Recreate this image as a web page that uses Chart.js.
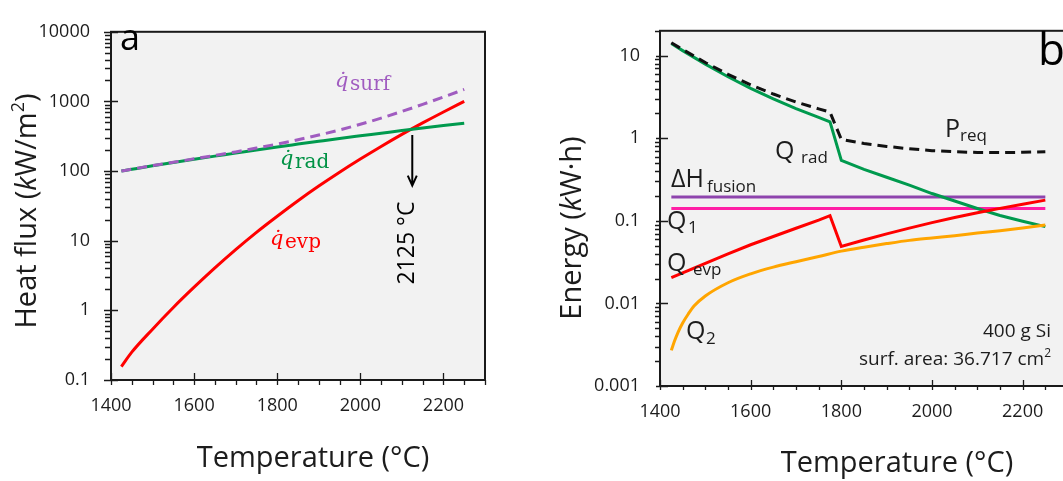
<!DOCTYPE html>
<html>
<head>
<meta charset="utf-8">
<script src="https://cdn.jsdelivr.net/npm/chart.js@4.4.1/dist/chart.umd.min.js"></script>
<style>
  html, body { margin: 0; padding: 0; background: #fff; overflow: hidden; }
  #wrap { position: relative; width: 1063px; height: 481px; overflow: hidden; }
  #chartA { position: absolute; left: 0; top: 0; }
  #chartB { position: absolute; left: 520px; top: 0; }
</style>
</head>
<body>
<div id="wrap">
  <canvas id="chartA" width="500" height="481"></canvas>
  <canvas id="chartB" width="560" height="481"></canvas>
</div>
<script>
// ── Panel a: heat flux (kW/m²) vs temperature ──
const tempsA = [1425, 1450, 1500, 1550, 1600, 1650, 1700, 1750, 1800, 1850, 1900, 1950, 2000, 2050, 2100, 2150, 2200, 2250];
const qSurf  = [100, 106.3, 120, 134, 150, 168, 188.5, 214, 244.5, 282, 329, 390, 470, 576, 719, 907, 1156, 1487];
const qRad   = [100, 106, 119, 133, 148, 164, 181, 201, 222, 244, 268, 294, 321, 350, 382, 415, 450, 487];
const qEvp   = [0.156, 0.251, 0.537, 1.10, 2.15, 4.07, 7.45, 13.2, 22.5, 37.6, 61.0, 96.4, 149, 226, 337, 492, 706, 1000];
const yTicksA = [0.1, 1, 10, 100, 1000, 10000];

// ── Panel b: energy (kW·h) vs temperature ──
const tempsB = [1425, 1450, 1500, 1550, 1600, 1650, 1700, 1750, 1775, 1800, 1850, 1900, 1950, 2000, 2050, 2100, 2150, 2200, 2250];
const pReq   = [14.36, 11.87, 8.27, 5.94, 4.42, 3.43, 2.74, 2.27, 2.07, 0.968, 0.863, 0.796, 0.746, 0.707, 0.686, 0.673, 0.670, 0.676, 0.688];
const qRadB  = [14.0, 11.5, 7.89, 5.55, 4.01, 3.0, 2.29, 1.79, 1.58, 0.54, 0.42, 0.337, 0.27, 0.214, 0.174, 0.141, 0.116, 0.099, 0.085];
const qEvpB  = [0.0205, 0.0234, 0.0305, 0.0398, 0.0513, 0.0646, 0.0813, 0.102, 0.1156, 0.049, 0.0586, 0.0695, 0.0817, 0.0951, 0.1096, 0.1253, 0.1416, 0.1592, 0.1782];
const tempsQ2 = [1425, 1432, 1440, 1450, 1462, 1475, 1500, 1550, 1600, 1650, 1700, 1750, 1800, 1850, 1900, 1950, 2000, 2050, 2100, 2150, 2200, 2250];
const q2     = [0.0027, 0.0035, 0.0045, 0.0058, 0.0074, 0.0093, 0.0123, 0.0178, 0.0228, 0.0275, 0.032, 0.037, 0.043, 0.048, 0.053, 0.058, 0.062, 0.066, 0.071, 0.076, 0.082, 0.089];
const levelTemps = [1425, 2250];
const dHFusion = [0.195, 0.195];
const q1 = [0.141, 0.141];
const yTicksB = [0.001, 0.01, 0.1, 1, 10];

const xTicks = [1400, 1600, 1800, 2000, 2200];

const TXT = '#1c1c1c';
const SANS = '"Open Sans", "DejaVu Sans", sans-serif';
const SERIF = '"DejaVu Serif", serif';

function pts(xs, ys) {
  return xs.map((x, i) => ({ x: x, y: ys[i] }));
}

function line(label, xs, ys, color, dash, smooth) {
  return {
    label: label,
    data: pts(xs, ys),
    borderColor: color,
    borderWidth: 3,
    borderDash: dash || [],
    pointRadius: 0,
    tension: 0,
    cubicInterpolationMode: smooth ? 'monotone' : 'default',
    fill: false
  };
}

// draw a row of text runs: [text, font, dy]
function runsWidth(ctx, runs) {
  let w = 0;
  runs.forEach(r => { ctx.font = r[1]; w += ctx.measureText(r[0]).width; });
  return w;
}
function drawRuns(ctx, x, y, runs) {
  let cx = x;
  runs.forEach(r => {
    ctx.font = r[1];
    ctx.fillText(r[0], cx, y + (r[2] || 0));
    cx += ctx.measureText(r[0]).width;
  });
}

// ── background, frame, tick marks and text ──
const decoPlugin = {
  id: 'deco',
  beforeDatasetsDraw(chart) {
    const a = chart.chartArea, ctx = chart.ctx;
    ctx.save();
    ctx.fillStyle = '#f2f2f2';
    ctx.fillRect(a.left, a.top, a.right - a.left, a.bottom - a.top);
    ctx.restore();
  },
  afterDraw(chart, args, opts) {
    const a = chart.chartArea, ctx = chart.ctx;
    const xs = chart.scales.x, ys = chart.scales.y;
    ctx.save();
    ctx.strokeStyle = '#1a1a1a';
    ctx.lineWidth = 2;
    ctx.strokeRect(a.left, a.top, a.right - a.left, a.bottom - a.top);

    const t = opts.ticks;
    ctx.lineWidth = 1.3;
    ctx.beginPath();
    // x ticks every 50 °C
    for (let v = xs.min; v <= xs.max; v += 50) {
      const px = Math.round(xs.getPixelForValue(v)) + 0.5;
      if (v % 200 === 0) {
        ctx.moveTo(px, a.bottom - t.xIn); ctx.lineTo(px, a.bottom + t.xOut);
      } else {
        ctx.moveTo(px, a.bottom); ctx.lineTo(px, a.bottom + t.xMinor);
      }
    }
    // y log ticks
    const d0 = Math.floor(Math.log10(ys.min)), d1 = Math.ceil(Math.log10(ys.max));
    for (let d = d0; d <= d1; d++) {
      for (let m = 1; m <= 9; m++) {
        const v = m * Math.pow(10, d);
        if (v < ys.min * 0.999 || v > ys.max * 1.001) continue;
        const py = Math.round(ys.getPixelForValue(v)) + 0.5;
        if (m === 1) {
          ctx.moveTo(a.left - t.yOut, py); ctx.lineTo(a.left + t.yIn, py);
        } else {
          ctx.moveTo(a.left - t.yMinor, py); ctx.lineTo(a.left, py);
        }
      }
    }
    ctx.stroke();

    // arrow (panel a)
    if (opts.arrow) {
      const ar = opts.arrow;
      const px = xs.getPixelForValue(ar.x);
      const pTop = ys.getPixelForValue(ar.from), pBot = ys.getPixelForValue(ar.to);
      ctx.lineWidth = 2;
      ctx.strokeStyle = '#000';
      ctx.beginPath();
      ctx.moveTo(px, pTop); ctx.lineTo(px, pBot);
      ctx.moveTo(px - 4.5, pBot - 10); ctx.lineTo(px, pBot); ctx.lineTo(px + 4.5, pBot - 10);
      ctx.stroke();
    }

    // text labels
    ctx.textBaseline = 'alphabetic';
    opts.labels.forEach(l => {
      ctx.save();
      ctx.fillStyle = l.color || TXT;
      ctx.translate(l.x, l.y);
      if (l.rotate) ctx.rotate(l.rotate);
      const w = runsWidth(ctx, l.runs);
      let x0 = 0;
      if (l.align === 'center') x0 = -w / 2;
      if (l.align === 'right') x0 = -w;
      drawRuns(ctx, x0, 0, l.runs);
      ctx.restore();
    });
    ctx.restore();
  }
};

function scalesFor(yMin, yMax, yTicks, yWidth, xHeight, yPad) {
  return {
    x: {
      type: 'linear', min: 1400, max: 2300,
      afterBuildTicks: s => { s.ticks = xTicks.map(v => ({ value: v })); },
      afterFit: s => { s.height = xHeight; },
      ticks: { font: { family: SANS, size: 18 }, color: TXT, padding: 15, maxRotation: 0, autoSkip: false,
               callback: v => String(v) },
      grid: { display: false, drawTicks: false },
      border: { display: false }
    },
    y: {
      type: 'logarithmic', min: yMin, max: yMax,
      afterBuildTicks: s => { s.ticks = yTicks.map(v => ({ value: v })); },
      afterFit: s => { s.width = yWidth; },
      ticks: { font: { family: SANS, size: 18 }, color: TXT, padding: yPad, autoSkip: false,
               callback: v => String(v) },
      grid: { display: false, drawTicks: false },
      border: { display: false }
    }
  };
}

const F_TITLE = '29px ' + SANS;
const F_TITLE_I = 'italic 29px ' + SANS;
const F_SUP = '18px ' + SANS;
const F_Q = '25px ' + SANS;
const F_SUB = '17px ' + SANS;

// ── Panel a ──
new Chart(document.getElementById('chartA'), {
  type: 'line',
  data: {
    datasets: [
      line('q_surf', tempsA, qSurf, '#a05cc0', [10, 6], true),
      line('q_rad', tempsA, qRad, '#009a4e', null, true),
      line('q_evp', tempsA, qEvp, '#ff0000', null, true)
    ]
  },
  options: {
    responsive: false,
    animation: false,
    layout: { padding: { top: 18, right: 15, left: 0, bottom: 0 } },
    scales: scalesFor(0.1, 10000, yTicksA, 111, 101, 21),
    plugins: {
      legend: { display: false },
      tooltip: { enabled: false },
      deco: {
        ticks: { xIn: 7, xOut: 5, xMinor: 5, yIn: 7, yOut: 7, yMinor: 6 },
        arrow: { x: 2125, from: 330, to: 62 },
        labels: [
          { x: 120, y: 50, runs: [['a', '36px ' + SANS]], color: '#000' },
          { x: 335, y: 87, color: '#a05cc0', runs: [['q\u0307', 'italic 21px ' + SERIF]] },
          { x: 350, y: 90, color: '#a05cc0', runs: [['surf', '20px ' + SERIF]] },
          { x: 280, y: 165, color: '#009245', runs: [['q\u0307', 'italic 21px ' + SERIF]] },
          { x: 295, y: 168, color: '#009245', runs: [['rad', '20px ' + SERIF]] },
          { x: 270, y: 245, color: '#ff0000', runs: [['q\u0307', 'italic 21px ' + SERIF]] },
          { x: 285, y: 248, color: '#ff0000', runs: [['evp', '20px ' + SERIF]] },
          { x: 414, y: 243, rotate: -Math.PI / 2, align: 'center', color: '#000', runs: [['2125 \u00b0C', '23px ' + SANS]] },
          { x: 313, y: 467, align: 'center', runs: [['Temperature (\u00b0C)', F_TITLE]] },
          { x: 36, y: 211, rotate: -Math.PI / 2, align: 'center',
            runs: [['Heat flux (', F_TITLE], ['k', F_TITLE_I], ['W/m', F_TITLE], ['2', F_SUP, -12], [')', F_TITLE]] }
        ]
      }
    }
  },
  plugins: [decoPlugin]
});

// ── Panel b (page x offset 520) ──
const OX = 520;
new Chart(document.getElementById('chartB'), {
  type: 'line',
  data: {
    datasets: [
      line('P_req', tempsB, pReq, '#111111', [10, 6]),
      line('Q_2', tempsQ2, q2, '#ffa500', null, true),
      line('Q_evp', tempsB, qEvpB, '#ff0000'),
      line('Q_rad', tempsB, qRadB, '#009a4e'),
      line('Q_1', levelTemps, q1, '#ff1fa5'),
      line('dH_fusion', levelTemps, dHFusion, '#8e44ad')
    ]
  },
  options: {
    responsive: false,
    animation: false,
    layout: { padding: { top: 29, right: 12, left: 0, bottom: 0 } },
    scales: scalesFor(0.001, 20, yTicksB, 140, 95, 20),
    plugins: {
      legend: { display: false },
      tooltip: { enabled: false },
      deco: {
        ticks: { xIn: 6, xOut: 4, xMinor: 4, yIn: 8, yOut: 4, yMinor: 5 },
        labels: [
          { x: 1038 - OX, y: 65, color: '#000', runs: [['b', '44px ' + SANS]] },
          { x: 945 - OX, y: 137, runs: [['P', F_Q]] },
          { x: 960 - OX, y: 141, runs: [['req', F_SUB]] },
          { x: 775 - OX, y: 159, runs: [['Q', F_Q]] },
          { x: 801 - OX, y: 163, runs: [['rad', F_SUB]] },
          { x: 671 - OX, y: 187, runs: [['\u0394H', F_Q]] },
          { x: 707 - OX, y: 192, runs: [['fusion', F_SUB]] },
          { x: 667 - OX, y: 229, runs: [['Q', F_Q]] },
          { x: 688 - OX, y: 233, runs: [['1', F_SUB]] },
          { x: 667 - OX, y: 271, runs: [['Q', F_Q]] },
          { x: 693 - OX, y: 275, runs: [['evp', F_SUB]] },
          { x: 686 - OX, y: 339, runs: [['Q', F_Q]] },
          { x: 706 - OX, y: 344, runs: [['2', F_SUB]] },
          { x: 1051 - OX, y: 337, align: 'right', runs: [['400 g Si', '19px ' + SANS]] },
          { x: 1051 - OX, y: 365, align: 'right', runs: [['surf. area: 36.717 cm', '19px ' + SANS], ['2', '12px ' + SANS, -8]] },
          { x: 897 - OX, y: 472, align: 'center', runs: [['Temperature (\u00b0C)', F_TITLE]] },
          { x: 581 - OX, y: 228, rotate: -Math.PI / 2, align: 'center',
            runs: [['Energy (', F_TITLE], ['k', F_TITLE_I], ['W\u00b7h)', F_TITLE]] }
        ]
      }
    }
  },
  plugins: [decoPlugin]
});
</script>
</body>
</html>
